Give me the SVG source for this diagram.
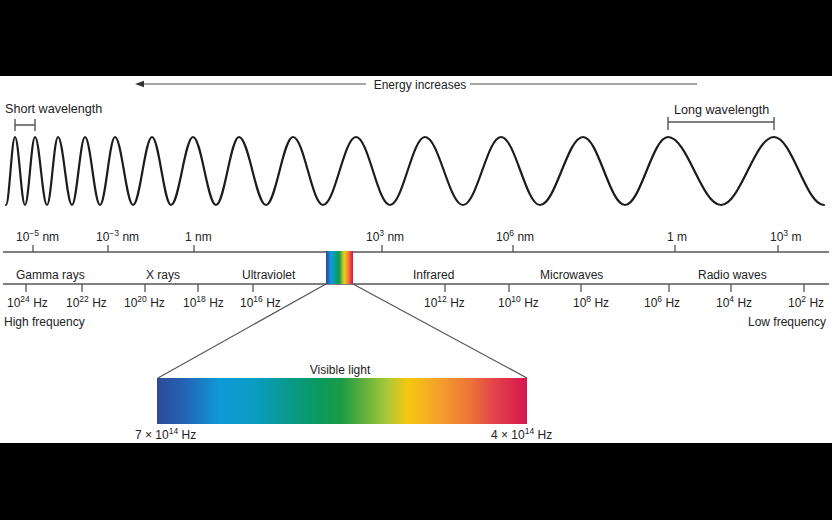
<svg xmlns="http://www.w3.org/2000/svg" width="832" height="520" viewBox="0 0 832 520">
<defs>
<style>
text{font-family:"Liberation Sans",Arial,sans-serif;font-size:12px;fill:#222}
.sup{font-size:8.5px}
.ax{stroke:#555;stroke-width:1.4;fill:none}
.tk{stroke:#555;stroke-width:1.3}
.br{stroke:#555;stroke-width:1.4;fill:none}
.cn{stroke:#555;stroke-width:1.2;fill:none}
</style>
<linearGradient id="spec" x1="0" y1="0" x2="1" y2="0">
<stop offset="0" stop-color="#2c4a9a"/>
<stop offset="0.08" stop-color="#2266b5"/>
<stop offset="0.17" stop-color="#0f9ad8"/>
<stop offset="0.26" stop-color="#0a9cc4"/>
<stop offset="0.35" stop-color="#0a9a90"/>
<stop offset="0.44" stop-color="#0a9a5e"/>
<stop offset="0.50" stop-color="#1c9b45"/>
<stop offset="0.57" stop-color="#6cb43c"/>
<stop offset="0.62" stop-color="#a8c838"/>
<stop offset="0.68" stop-color="#f8c70f"/>
<stop offset="0.76" stop-color="#f4a22b"/>
<stop offset="0.85" stop-color="#ec7237"/>
<stop offset="0.91" stop-color="#e3434a"/>
<stop offset="1" stop-color="#d6164d"/>
</linearGradient>
</defs>
<rect x="0" y="0" width="832" height="520" fill="#fff"/>
<rect x="0" y="0" width="832" height="76" fill="#000"/>
<rect x="0" y="443" width="832" height="77" fill="#000"/>

<g id="energy-arrow">
<line x1="142" y1="84" x2="366" y2="84" stroke="#8a8a8a" stroke-width="1.6"/>
<line x1="470" y1="84" x2="697" y2="84" stroke="#8a8a8a" stroke-width="1.6"/>
<polygon points="135,84 144,80.8 144,87.2" fill="#333"/>
<text x="420" y="89" text-anchor="middle">Energy increases</text>
</g>

<g id="short-wavelength">
<text x="5" y="113" style="font-size:12.6px">Short wavelength</text>
<path class="br" d="M15,119V131M35,119V131M15,125H35"/>
</g>
<g id="long-wavelength">
<text x="674" y="114" style="font-size:12.6px">Long wavelength</text>
<path class="br" d="M668,117V130M774,117V130M668,122H774"/>
</g>

<g id="wave">
<path fill="none" stroke="#1c1c1c" stroke-width="2.2" stroke-linecap="round" d="M6,205 C9.3,205 11.7,137 15,137 C18.6,137 21.4,205 25,205 C28.6,205 31.4,137 35,137 C39.4,137 42.6,205 47,205 C51,205 54,137 58,137 C63.1,137 66.9,205 72,205 C76.7,205 80.3,137 85,137 C90.5,137 94.5,205 100,205 C105.5,205 109.5,137 115,137 C121.5,137 126.5,205 133,205 C139.9,205 145.1,137 152,137 C158.9,137 164.1,205 171,205 C179,205 185,137 193,137 C201.4,137 207.6,205 216,205 C224.4,205 230.6,137 239,137 C248.8,137 256.2,205 266,205 C275.8,205 283.2,137 293,137 C303.9,137 312.1,205 323,205 C335,205 344,137 356,137 C368.4,137 377.6,205 390,205 C402.7,205 412.3,137 425,137 C438.8,137 449.2,205 463,205 C476.8,205 487.2,137 501,137 C515.2,137 525.8,205 540,205 C555.6,205 567.4,137 583,137 C598.3,137 609.7,205 625,205 C640.6,205 652.4,137 668,137 C687.3,137 701.7,205 721,205 C740.3,205 754.7,137 774,137 C792.2,137 805.8,205 824,205"/>
</g>

<g id="wavelength-axis">
<line class="ax" x1="3" y1="252" x2="829" y2="252"/>
<path class="tk" d="M33,252V245M108,252V245M194,252V245M382,252V245M513,252V245M675,252V245M778,252V245"/>
<text x="16" y="241">10<tspan class="sup" dy="-5">−5</tspan><tspan dy="5"> nm</tspan></text>
<text x="96" y="241">10<tspan class="sup" dy="-5">−3</tspan><tspan dy="5"> nm</tspan></text>
<text x="185" y="241">1 nm</text>
<text x="366" y="241">10<tspan class="sup" dy="-5">3</tspan><tspan dy="5"> nm</tspan></text>
<text x="496" y="241">10<tspan class="sup" dy="-5">6</tspan><tspan dy="5"> nm</tspan></text>
<text x="667" y="241">1 m</text>
<text x="770" y="241">10<tspan class="sup" dy="-5">3</tspan><tspan dy="5"> m</tspan></text>
</g>

<g id="bands">
<text x="16" y="279">Gamma rays</text>
<text x="146" y="279">X rays</text>
<text x="242" y="279">Ultraviolet</text>
<text x="413" y="279">Infrared</text>
<text x="540" y="279">Microwaves</text>
<text x="698" y="279">Radio waves</text>
</g>

<g id="frequency-axis">
<line class="ax" x1="3" y1="284" x2="829" y2="284"/>
<path class="tk" d="M26,284V292M82,284V292M145,284V292M198,284V292M253,284V292M445,284V292M509,284V292M581,284V292M669,284V292M731,284V292M804,284V292"/>
<text x="7" y="307">10<tspan class="sup" dy="-5">24</tspan><tspan dy="5"> Hz</tspan></text>
<text x="66" y="307">10<tspan class="sup" dy="-5">22</tspan><tspan dy="5"> Hz</tspan></text>
<text x="124" y="307">10<tspan class="sup" dy="-5">20</tspan><tspan dy="5"> Hz</tspan></text>
<text x="183" y="307">10<tspan class="sup" dy="-5">18</tspan><tspan dy="5"> Hz</tspan></text>
<text x="240" y="307">10<tspan class="sup" dy="-5">16</tspan><tspan dy="5"> Hz</tspan></text>
<text x="424" y="307">10<tspan class="sup" dy="-5">12</tspan><tspan dy="5"> Hz</tspan></text>
<text x="498" y="307">10<tspan class="sup" dy="-5">10</tspan><tspan dy="5"> Hz</tspan></text>
<text x="573" y="307">10<tspan class="sup" dy="-5">8</tspan><tspan dy="5"> Hz</tspan></text>
<text x="644" y="307">10<tspan class="sup" dy="-5">6</tspan><tspan dy="5"> Hz</tspan></text>
<text x="716" y="307">10<tspan class="sup" dy="-5">4</tspan><tspan dy="5"> Hz</tspan></text>
<text x="788" y="307">10<tspan class="sup" dy="-5">2</tspan><tspan dy="5"> Hz</tspan></text>
<text x="4" y="326">High frequency</text>
<text x="826" y="326" text-anchor="end">Low frequency</text>
</g>

<g id="visible-small">
<rect x="326" y="251" width="27" height="33" fill="url(#spec)"/>
</g>

<g id="connectors">
<line class="cn" x1="326" y1="284" x2="158" y2="378"/>
<line class="cn" x1="353" y1="284" x2="527" y2="378"/>
</g>

<g id="visible-large">
<rect x="157" y="378" width="370" height="46" fill="url(#spec)"/>
<text x="340" y="374" text-anchor="middle">Visible light</text>
<text x="135" y="439">7 × 10<tspan class="sup" dy="-5">14</tspan><tspan dy="5"> Hz</tspan></text>
<text x="491" y="439">4 × 10<tspan class="sup" dy="-5">14</tspan><tspan dy="5"> Hz</tspan></text>
</g>
</svg>
